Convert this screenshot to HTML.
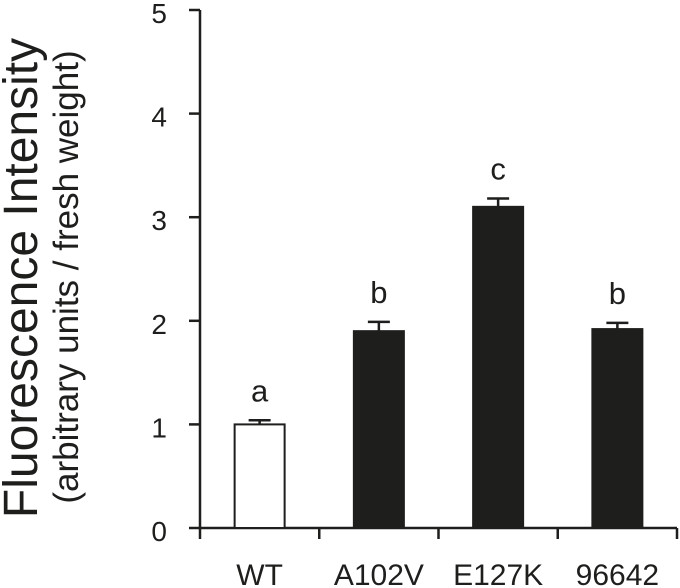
<!DOCTYPE html>
<html><head><meta charset="utf-8"><style>
html,body{margin:0;padding:0;background:#fff;}
svg{display:block;font-family:"Liberation Sans",sans-serif;}
</style></head><body>
<svg id="chart" width="680" height="588"></svg>
<script>
const categories = ["WT","A102V","E127K","96642"];
const values = [1.0, 1.9, 3.1, 1.92];
const errors = [0.04, 0.09, 0.08, 0.06];
const letters = ["a","b","c","b"];
const yTicks = [0,1,2,3,4,5];
const fills = ["#fff","#1e1e1c","#1e1e1c","#1e1e1c"];

const NS="http://www.w3.org/2000/svg";
const svg=document.getElementById('chart');
const x0=200, x1=677, y0=528, yTop=10, yMax=5;
const catW=(x1-x0)/categories.length, barW=50;
const y=v=>y0-(v/yMax)*(y0-yTop);
const xc=i=>x0+catW*(i+0.5);
const C="#1e1e1c";
function mk(t,a,parent){const e=document.createElementNS(NS,t);for(const k in a)e.setAttribute(k,a[k]);(parent||svg).appendChild(e);return e;}

const yAxis=mk('line',{x1:x0,y1:yTop,x2:x0,y2:y0,stroke:C,'stroke-width':2.5});


const xAxis=mk('line',{x1:x0-1,y1:y0,x2:x1,y2:y0,stroke:C,'stroke-width':2.5});



yTicks.forEach(t=>{
  const l=mk('line',{x1:x0-11,y1:y(t),x2:x0,y2:y(t),stroke:C,'stroke-width':2.5});
  
  
  const tx=mk('text',{x:167,y:y(t)+13,'text-anchor':'end','font-size':28,fill:C});
  tx.textContent=t;
  
  
});
for(let i=0;i<=categories.length;i++){
  const xx=x0+catW*i;
  const l=mk('line',{x1:xx,y1:y0,x2:xx,y2:y0+11,stroke:C,'stroke-width':2.5});
  
  
}
categories.forEach((c,i)=>{
  const cx=xc(i);
  const top=y(values[i]);
  const et=y(values[i]+errors[i]);
  const el=mk('line',{x1:cx,y1:et,x2:cx,y2:top,stroke:C,'stroke-width':2.5});
  
  
  const cap=mk('line',{x1:cx-11,y1:et,x2:cx+11,y2:et,stroke:C,'stroke-width':2.5});
  
  
  const r=mk('rect',{x:cx-barW/2,y:top,width:barW,height:y0-top,fill:fills[i],stroke:C,'stroke-width':2});
  
  
  const lt=mk('text',{x:cx,y:et-19,'text-anchor':'middle','font-size':31,fill:C});
  lt.textContent=letters[i];
  
  
  const xl=mk('text',{x:cx,y:585,'text-anchor':'middle','font-size':30,fill:C});
  xl.textContent=c;
  
  
});
const t1=mk('text',{x:0,y:0,'text-anchor':'middle','font-size':48,fill:C,transform:'translate(37,278) rotate(-90)'});
t1.textContent='Fluorescence Intensity';


const t2=mk('text',{x:0,y:0,'text-anchor':'middle','font-size':35,fill:C,transform:'translate(78,277) rotate(-90)'});
t2.textContent='(arbitrary units / fresh weight)';


</script>
</body></html>
